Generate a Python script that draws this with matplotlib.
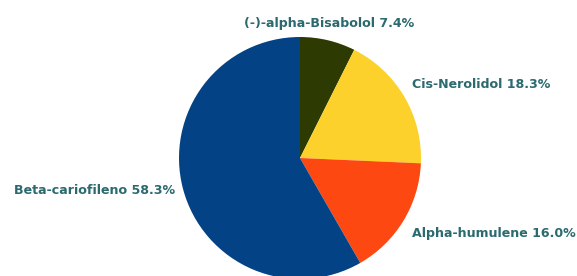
import matplotlib
matplotlib.use("Agg")
import matplotlib.pyplot as plt

names = ['(-)-alpha-Bisabolol', 'Cis-Nerolidol', 'Alpha-humulene', 'Beta-cariofileno']
shares = [7.4, 18.3, 16.0, 58.3]
colors = ['#2d3a02', '#fdd12b', '#fd4812', '#034385']

fig = plt.figure(figsize=(5.77, 2.76), dpi=100)
ax = fig.add_axes([0, 0, 1, 1])

ax.pie(shares, colors=colors, startangle=90, counterclock=False,
       center=(300, 118), radius=121, wedgeprops=dict(linewidth=0))
ax.set_xlim(0, 577)
ax.set_ylim(0, 276)
ax.set_aspect('auto')
ax.axis('off')

# label anchors (pixel coords, y up)
spots = [(329, 253, 'center'), (412, 192, 'left'), (412, 43, 'left'), (175, 85, 'right')]
for n, s, (x, y, ha) in zip(names, shares, spots):
    ax.text(x, y, f'{n} {s:.1f}%', ha=ha, va='center', fontsize=9.1,
            fontweight='bold', color='#2b6a6e')

fig.savefig('out.png', dpi=100)
